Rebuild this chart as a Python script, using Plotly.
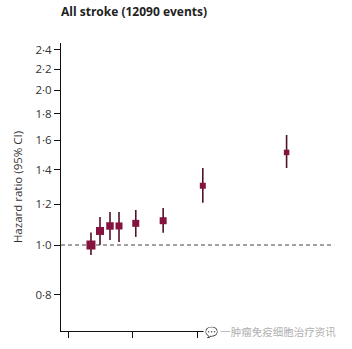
import plotly.graph_objects as go

# data
x_vals = [127.1, 129.9, 133.0, 135.8, 141.0, 149.5, 161.8, 187.8]
hr = [1.00, 1.065, 1.089, 1.089, 1.102, 1.115, 1.304, 1.514]
ci_low = [0.956, 1.00, 1.023, 1.013, 1.037, 1.057, 1.209, 1.412]
ci_high = [1.058, 1.134, 1.159, 1.159, 1.17, 1.18, 1.412, 1.637]
marker_sizes = [9, 8, 7.5, 7, 7, 7, 6, 5.5]

y_tick_vals = [0.8, 1.0, 1.2, 1.4, 1.6, 1.8, 2.0, 2.2, 2.4]
y_tick_text = ["0·8", "1·0", "1·2", "1·4", "1·6", "1·8", "2·0", "2·2", "2·4"]
x_tick_vals = [120, 140, 160, 180, 200]

err_plus = [h - hr[i] for i, h in enumerate(ci_high)]
err_minus = [hr[i] - l for i, l in enumerate(ci_low)]

fig = go.Figure()
fig.add_trace(go.Scatter(
    x=x_vals, y=hr, mode="markers",
    marker=dict(symbol="square", size=marker_sizes, color="#84143f",
                opacity=1, line=dict(width=0)),
    error_y=dict(type="data", symmetric=False, array=err_plus,
                 arrayminus=err_minus, color="#4e1229", thickness=1.6, width=0),
    showlegend=False,
))

fig.add_shape(type="line", xref="paper", yref="y", x0=0, x1=1, y0=1.0, y1=1.0,
              line=dict(color="#444", width=1, dash="4px,3px"), layer="below")

fig.update_layout(
    width=352, height=349,
    margin=dict(l=61, r=19, t=43, b=18),
    paper_bgcolor="white", plot_bgcolor="white",
    font=dict(family="Open Sans", color="#222", size=11),
    title=dict(text="<b>All stroke (12090 events)</b>", x=0, xref="paper",
               xanchor="left", y=0.965, yanchor="middle",
               font=dict(size=12, color="#222", family="Open Sans")),
    xaxis=dict(range=[117.8, 202.2], showgrid=False, zeroline=False,
               showline=True, linecolor="#111", linewidth=1.2,
               ticks="outside", ticklen=6, tickcolor="#111",
               tickvals=x_tick_vals, showticklabels=False),
    yaxis=dict(type="log", range=[-0.1673, 0.393], showgrid=False,
               zeroline=False, showline=True, linecolor="#111", linewidth=1.2,
               ticks="outside", ticklen=6, tickcolor="#111",
               tickvals=y_tick_vals, ticktext=y_tick_text,
               tickfont=dict(size=11.5, color="#333"),
               title=dict(text="Hazard ratio (95% CI)", standoff=10,
                          font=dict(size=11.5, color="#333"))),
)

fig.add_annotation(text="💬 一肿瘤免疫细胞治疗资讯", xref="paper", yref="paper",
                   x=1.02, y=0.0, xanchor="right", yanchor="middle",
                   showarrow=False, bgcolor="white",
                   font=dict(family="Noto Sans CJK SC", size=10.5, color="#b0b0b0"))

fig.write_html("out.html")
